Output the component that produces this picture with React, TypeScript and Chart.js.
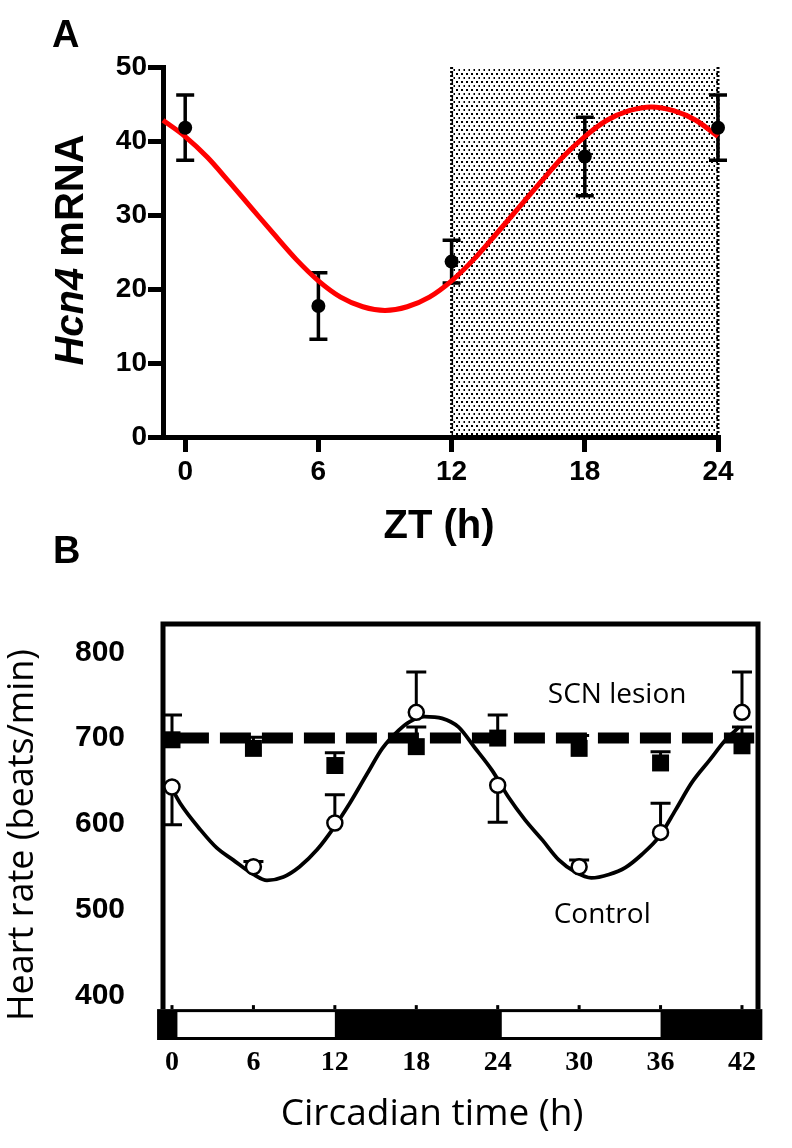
import React, { useEffect, useRef } from "react";
import { Chart, registerables } from "chart.js";

Chart.register(...registerables);

const SANS = '"Liberation Sans", Arial, sans-serif';
const SERIF = '"Liberation Serif", "Times New Roman", serif';
const OPEN = '"Open Sans", sans-serif';

// ---------------- Panel A data ----------------
const ztTicks = [0, 6, 12, 18, 24];
const hcn4Ticks = [0, 10, 20, 30, 40, 50];
const ztSample = [0, 6, 12, 18, 24];
const hcn4Mean = [41.8, 17.7, 23.7, 37.9, 41.8];
const hcn4Sem = [4.4, 4.5, 2.9, 5.3, 4.4];
const fitZt = [-1, 0, 1, 2, 3, 4, 5, 6, 7, 8, 9, 10, 11, 12, 13, 14, 15, 16, 17, 18, 19, 20, 21, 22, 23, 24];
const fitHcn4 = [42.8, 40.6, 37.8, 34.4, 30.9, 27.4, 24.0, 21.1, 18.9, 17.6, 17.1, 17.6, 18.9, 21.1, 24.0, 27.4, 30.9, 34.4, 37.8, 40.6, 42.8, 44.1, 44.6, 44.1, 42.8, 40.6];
const darkPhaseZt = [12, 24];

// ---------------- Panel B data ----------------
const ctTicks = [0, 6, 12, 18, 24, 30, 36, 42];
const bpmTicks = [400, 500, 600, 700, 800];
const ctSample = [0, 6, 12, 18, 24, 30, 36, 42];
const controlMean = [643, 550, 601, 730, 645, 550, 590, 730];
const controlErrUp = [0, 6, 33, 47, 0, 8, 34, 47];
const controlErrDown = [44, 0, 0, 0, 43, 0, 0, 0];
const scnMean = [698, 688, 668, 690, 700, 688, 671, 691];
const scnErrUp = [29, 13, 15, 23, 27, 15, 13, 22];
const controlFitCt = [0, 0.6, 2.1, 3.3, 4.5, 6, 7, 8.2, 9.4, 10.7, 11.9, 13.1, 14.4, 15.5, 16.7, 17.5, 18.6, 19.9, 21.1, 22.3, 23.6, 24.8, 26, 27.3, 28.5, 29.7, 30.9, 32.2, 33.4, 34.6, 35.9, 37.1, 38.3, 39.6, 40.8, 41.8];
const controlFitBpm = [641, 624, 593, 572, 558, 541, 534, 538, 550, 570, 595, 624, 659, 688, 709, 719, 725, 723, 713, 689, 662, 631, 605, 581, 558, 544, 537, 541, 549, 564, 585, 616, 648, 674, 698, 713];
const scnFitCt = [-0.3, 42.9];
const scnFitBpm = [700, 700];
const lightDarkEdgesCt = [-1.1, 0.4, 12, 24.3, 36, 43.5];
const lightDarkPhase = ["dark", "light", "dark", "light", "dark"];
const lightDarkBpm = [348, 384];
const scnLabel = { text: "SCN lesion", ct: 32.8, bpm: 741 };
const controlLabel = { text: "Control", ct: 31.7, bpm: 484 };

type Pt = { x: number; y: number };
const zip = (xs: number[], ys: number[]): Pt[] => xs.map((x, i) => ({ x, y: ys[i] }));

function makeDotPattern(ctx: CanvasRenderingContext2D) {
  const c = document.createElement("canvas");
  c.width = 5;
  c.height = 8;
  const g = c.getContext("2d")!;
  g.fillStyle = "#000";
  g.fillRect(1, 1, 2, 2);
  g.fillRect(3.5, 5, 2, 2);
  return ctx.createPattern(c, "repeat")!;
}

function drawCapLine(ctx: CanvasRenderingContext2D, x: number, y0: number, y1: number, cap: number, lw: number) {
  ctx.lineWidth = lw;
  ctx.beginPath();
  ctx.moveTo(x, y0);
  ctx.lineTo(x, y1);
  ctx.moveTo(x - cap / 2, y1);
  ctx.lineTo(x + cap / 2, y1);
  ctx.stroke();
}

// ---------------- Panel A config ----------------
function configA(): any {
  const shadePlugin = {
    id: "shadeA",
    beforeDatasetsDraw(chart: any) {
      const { ctx } = chart;
      const xs = chart.scales.x;
      const ys = chart.scales.y;
      const x0 = xs.getPixelForValue(darkPhaseZt[0]);
      const x1 = xs.getPixelForValue(darkPhaseZt[1]);
      const yTop = ys.getPixelForValue(hcn4Ticks[hcn4Ticks.length - 1]);
      const yBot = ys.getPixelForValue(hcn4Ticks[0]);
      ctx.save();
      ctx.fillStyle = makeDotPattern(ctx);
      ctx.fillRect(x0, yTop, x1 - x0, yBot - yTop);
      ctx.strokeStyle = "#000";
      ctx.lineWidth = 3;
      ctx.setLineDash([2, 2]);
      ctx.beginPath();
      ctx.moveTo(x0, yTop);
      ctx.lineTo(x0, yBot);
      ctx.moveTo(x1, yTop);
      ctx.lineTo(x1, yBot);
      ctx.stroke();
      ctx.setLineDash([]);
      // error bars
      ctx.strokeStyle = "#000";
      ztSample.forEach((t, i) => {
        const px = xs.getPixelForValue(t);
        const yc = ys.getPixelForValue(hcn4Mean[i]);
        drawCapLine(ctx, px, yc, ys.getPixelForValue(hcn4Mean[i] + hcn4Sem[i]), 18, 3.5);
        drawCapLine(ctx, px, yc, ys.getPixelForValue(hcn4Mean[i] - hcn4Sem[i]), 18, 3.5);
      });
      ctx.restore();
    },
  };
  const textPlugin = {
    id: "textA",
    afterDraw(chart: any) {
      const { ctx } = chart;
      ctx.save();
      ctx.fillStyle = "#000";
      ctx.textBaseline = "alphabetic";
      ctx.textAlign = "left";
      ctx.font = `bold 38px ${SANS}`;
      ctx.fillText("A", 52, 47);
      ctx.textAlign = "center";
      ctx.font = `bold 40px ${SANS}`;
      ctx.fillText("ZT (h)", 439, 538);
      // rotated y title with italic gene name
      ctx.translate(83, 250);
      ctx.rotate(-Math.PI / 2);
      ctx.textAlign = "left";
      const f1 = `italic bold 40px ${SANS}`;
      const f2 = `bold 40px ${SANS}`;
      ctx.font = f1;
      const w1 = ctx.measureText("Hcn4").width;
      ctx.font = f2;
      const w2 = ctx.measureText(" mRNA").width;
      const sx = -(w1 + w2) / 2;
      ctx.font = f1;
      ctx.fillText("Hcn4", sx, 0);
      ctx.font = f2;
      ctx.fillText(" mRNA", sx + w1, 0);
      ctx.restore();
    },
  };
  const tickFont = { family: SANS, size: 28, weight: "bold" as const };
  return {
    type: "line",
    data: {
      datasets: [
        {
          label: "Hcn4 mRNA",
          data: zip(ztSample, hcn4Mean),
          showLine: false,
          pointRadius: 7,
          pointBackgroundColor: "#000",
          pointBorderWidth: 0,
          clip: false,
        },
        {
          label: "fit",
          data: zip(fitZt, fitHcn4),
          borderColor: "#ff0000",
          borderWidth: 5,
          pointRadius: 0,
          cubicInterpolationMode: "monotone",
          fill: false,
          clip: false,
        },
      ],
    },
    options: {
      animation: false,
      responsive: false,
      events: [],
      layout: { padding: { top: 67, right: 74, left: 0, bottom: 0 } },
      plugins: { legend: { display: false }, tooltip: { enabled: false } },
      scales: {
        x: {
          type: "linear",
          min: -1,
          max: 24,
          afterBuildTicks: (s: any) => {
            s.ticks = ztTicks.map((v) => ({ value: v }));
          },
          afterFit: (s: any) => {
            s.height = 123;
          },
          grid: { drawOnChartArea: false, drawTicks: true, tickLength: 15, lineWidth: 5, tickWidth: 5, color: "#000", tickColor: "#000" },
          border: { display: true, width: 5, color: "#000" },
          ticks: { font: tickFont, color: "#000", padding: 3, maxRotation: 0, autoSkip: false },
        },
        y: {
          type: "linear",
          min: 0,
          max: 50,
          afterBuildTicks: (s: any) => {
            s.ticks = hcn4Ticks.map((v) => ({ value: v }));
          },
          afterFit: (s: any) => {
            s.width = 163;
          },
          grid: { drawOnChartArea: false, drawTicks: true, tickLength: 15, lineWidth: 5, tickWidth: 5, color: "#000", tickColor: "#000" },
          border: { display: true, width: 5, color: "#000" },
          ticks: { font: tickFont, color: "#000", padding: 1, autoSkip: false },
        },
      },
    },
    plugins: [shadePlugin, textPlugin],
  };
}

// ---------------- Panel B config ----------------
function configB(): any {
  const framePlugin = {
    id: "frameB",
    beforeDatasetsDraw(chart: any) {
      const { ctx, chartArea } = chart;
      const xs = chart.scales.x;
      const ys = chart.scales.y;
      const yBarTop = ys.getPixelForValue(lightDarkBpm[1]);
      const yBarBot = ys.getPixelForValue(lightDarkBpm[0]);
      ctx.save();
      // light/dark bar
      ctx.fillStyle = "#000";
      const bx0 = xs.getPixelForValue(lightDarkEdgesCt[0]);
      const bx1 = xs.getPixelForValue(lightDarkEdgesCt[lightDarkEdgesCt.length - 1]);
      ctx.fillRect(bx0, yBarTop, bx1 - bx0, yBarBot - yBarTop);
      ctx.fillStyle = "#fff";
      lightDarkPhase.forEach((p, i) => {
        if (p !== "light") return;
        const a = xs.getPixelForValue(lightDarkEdgesCt[i]);
        const b = xs.getPixelForValue(lightDarkEdgesCt[i + 1]);
        ctx.fillRect(a, yBarTop + 3, b - a, yBarBot - yBarTop - 6);
      });
      // small tick bumps above the bar
      ctx.fillStyle = "#000";
      ctTicks.forEach((t) => {
        const px = xs.getPixelForValue(t);
        ctx.fillRect(px - 1.5, yBarTop - 4, 3, 4);
      });
      // frame
      ctx.strokeStyle = "#000";
      ctx.lineWidth = 5;
      ctx.beginPath();
      ctx.moveTo(chartArea.left, yBarTop);
      ctx.lineTo(chartArea.left, chartArea.top);
      ctx.lineTo(chartArea.right, chartArea.top);
      ctx.lineTo(chartArea.right, yBarTop);
      ctx.stroke();
      // error bars
      ctx.strokeStyle = "#000";
      ctSample.forEach((t, i) => {
        const px = xs.getPixelForValue(t);
        const yc = ys.getPixelForValue(controlMean[i]);
        if (controlErrUp[i] > 0) drawCapLine(ctx, px, yc, ys.getPixelForValue(controlMean[i] + controlErrUp[i]), 20, 3);
        if (controlErrDown[i] > 0) drawCapLine(ctx, px, yc, ys.getPixelForValue(controlMean[i] - controlErrDown[i]), 20, 3);
        const ys2 = ys.getPixelForValue(scnMean[i]);
        drawCapLine(ctx, px, ys2, ys.getPixelForValue(scnMean[i] + scnErrUp[i]), 20, 3);
      });
      ctx.restore();
    },
  };
  const textPlugin = {
    id: "textB",
    afterDraw(chart: any) {
      const { ctx } = chart;
      const xs = chart.scales.x;
      const ys = chart.scales.y;
      ctx.save();
      ctx.fillStyle = "#000";
      ctx.textBaseline = "alphabetic";
      ctx.textAlign = "left";
      ctx.font = `bold 38px ${SANS}`;
      ctx.fillText("B", 53, 43);
      ctx.textAlign = "center";
      ctx.font = `37px ${OPEN}`;
      ctx.fillText("Circadian time (h)", 432, 605);
      ctx.font = `28px ${OPEN}`;
      ctx.fillText(scnLabel.text, xs.getPixelForValue(scnLabel.ct), ys.getPixelForValue(scnLabel.bpm));
      ctx.fillText(controlLabel.text, xs.getPixelForValue(controlLabel.ct), ys.getPixelForValue(controlLabel.bpm));
      ctx.translate(33, 315);
      ctx.rotate(-Math.PI / 2);
      ctx.font = `36px ${OPEN}`;
      ctx.fillText("Heart rate (beats/min)", 0, 0);
      ctx.restore();
    },
  };
  return {
    type: "line",
    data: {
      datasets: [
        {
          label: "Control",
          data: zip(ctSample, controlMean),
          showLine: false,
          pointRadius: 7.5,
          pointBackgroundColor: "#fff",
          pointBorderColor: "#000",
          pointBorderWidth: 2.5,
          clip: false,
        },
        {
          label: "SCN lesion",
          data: zip(ctSample, scnMean),
          showLine: false,
          pointStyle: "rect",
          pointRadius: 12,
          pointBackgroundColor: "#000",
          pointBorderWidth: 0,
          clip: false,
        },
        {
          label: "Control fit",
          data: zip(controlFitCt, controlFitBpm),
          borderColor: "#000",
          borderWidth: 3.8,
          pointRadius: 0,
          cubicInterpolationMode: "monotone",
          fill: false,
          clip: false,
        },
        {
          label: "SCN lesion fit",
          data: zip(scnFitCt, scnFitBpm),
          borderColor: "#000",
          borderWidth: 11,
          borderDash: [31, 11],
          borderDashOffset: 32,
          borderCapStyle: "butt",
          pointRadius: 0,
          fill: false,
          clip: false,
        },
      ],
    },
    options: {
      animation: false,
      responsive: false,
      events: [],
      layout: { padding: { top: 104, right: 34, left: 0, bottom: 0 } },
      plugins: { legend: { display: false }, tooltip: { enabled: false } },
      scales: {
        x: {
          type: "linear",
          min: -0.663,
          max: 43.18,
          afterBuildTicks: (s: any) => {
            s.ticks = ctTicks.map((v) => ({ value: v }));
          },
          afterFit: (s: any) => {
            s.height = 108;
          },
          grid: { display: false, drawTicks: false },
          border: { display: false },
          ticks: { font: { family: SERIF, size: 28, weight: "bold" }, color: "#000", padding: 6, maxRotation: 0, autoSkip: false },
        },
        y: {
          type: "linear",
          min: 348,
          max: 833,
          afterBuildTicks: (s: any) => {
            s.ticks = bpmTicks.map((v) => ({ value: v }));
          },
          afterFit: (s: any) => {
            s.width = 163;
          },
          grid: { display: false, drawTicks: false },
          border: { display: false },
          ticks: { font: { family: SANS, size: 30, weight: "bold" }, color: "#000", padding: 38, autoSkip: false },
        },
      },
    },
    plugins: [framePlugin, textPlugin],
  };
}

function ChartCanvas(props: { top: number; height: number; make: () => any }) {
  const ref = useRef<HTMLCanvasElement | null>(null);
  useEffect(() => {
    if (!ref.current) return;
    const chart = new Chart(ref.current, props.make());
    let alive = true;
    if ((document as any).fonts && (document as any).fonts.ready) {
      (document as any).fonts.ready.then(() => {
        if (alive) chart.update();
      });
    }
    return () => {
      alive = false;
      chart.destroy();
    };
  }, []);
  return (
    <canvas
      ref={ref}
      width={792}
      height={props.height}
      style={{ position: "absolute", left: 0, top: props.top, width: 792, height: props.height, display: "block" }}
    />
  );
}

export default function App() {
  return (
    <div style={{ position: "absolute", left: 0, top: 0, width: 792, height: 1148, background: "#fff", overflow: "hidden" }}>
      <ChartCanvas top={0} height={560} make={configA} />
      <ChartCanvas top={520} height={628} make={configB} />
    </div>
  );
}
